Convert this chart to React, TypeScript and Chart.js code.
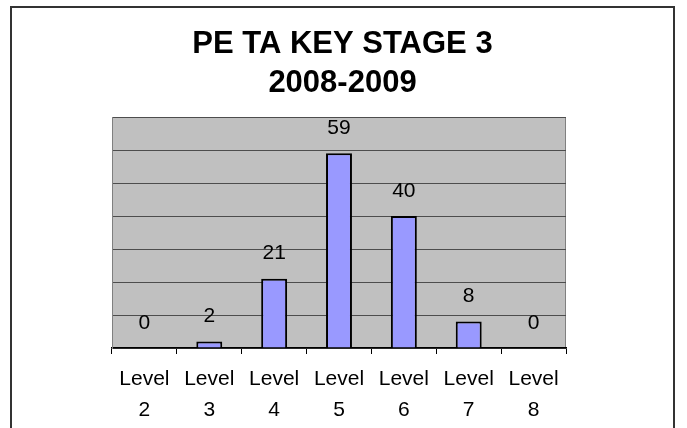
import React, { useEffect, useRef } from "react";
import { Chart, registerables } from "chart.js";

Chart.register(...registerables);

const titleLines = ["PE TA KEY STAGE 3", "2008-2009"];
const levelWord = "Level";
const levels = ["2", "3", "4", "5", "6", "7", "8"];
const pupils = [0, 2, 21, 59, 40, 8, 0];
const yTicks = [0, 10, 20, 30, 40, 50, 60, 70];

const FONT = "'Liberation Sans', Arial, sans-serif";

const plotBg = {
  id: "plotBg",
  beforeDraw(chart: any) {
    const { ctx, chartArea: a } = chart;
    ctx.save();
    ctx.fillStyle = "#ffffff";
    ctx.fillRect(0, 0, chart.width, chart.height);
    ctx.fillStyle = "#c0c0c0";
    ctx.fillRect(a.left, a.top, a.right - a.left, a.bottom - a.top);
    ctx.strokeStyle = "#808080";
    ctx.lineWidth = 1;
    ctx.strokeRect(a.left + 0.5, a.top + 0.5, a.right - a.left - 1, a.bottom - a.top);
    ctx.restore();
  },
  afterDraw(chart: any) {
    const { ctx } = chart;
    ctx.save();
    ctx.strokeStyle = "#333333";
    ctx.lineWidth = 2;
    ctx.strokeRect(11, 7, 663, chart.height + 20);
    // title
    ctx.fillStyle = "#000000";
    ctx.font = `bold 31px ${FONT}`;
    ctx.textAlign = "center";
    ctx.textBaseline = "middle";
    const cx = (11 + 674) / 2;
    titleLines.forEach((t, i) => {
      ctx.fillText(t, cx, 44 + i * 39);
    });
    ctx.restore();
  },
};

const valueLabels = {
  id: "valueLabels",
  afterDatasetsDraw(chart: any) {
    const { ctx } = chart;
    const meta = chart.getDatasetMeta(0);
    ctx.save();
    ctx.fillStyle = "#000000";
    ctx.font = `21px ${FONT}`;
    ctx.textAlign = "center";
    ctx.textBaseline = "middle";
    meta.data.forEach((bar: any, i: number) => {
      ctx.fillText(String(pupils[i]), bar.x, bar.y - 25);
    });
    ctx.restore();
  },
};

export default function App() {
  const ref = useRef<HTMLCanvasElement>(null);
  useEffect(() => {
    document.body.style.margin = "0";
    const chart = new Chart(ref.current!, {
      type: "bar",
      data: {
        labels: levels.map((l) => [levelWord, l]),
        datasets: [
          {
            data: pupils,
            backgroundColor: "#9999ff",
            borderColor: "#000000",
            borderWidth: 2,
            barPercentage: 0.4,
            categoryPercentage: 1,
          },
        ],
      },
      options: {
        responsive: false,
        animation: false,
        layout: { padding: { left: 0, right: 121, top: 117, bottom: 0 } },
        plugins: {
          legend: { display: false },
          tooltip: { enabled: false },
          title: { display: false },
        },
        scales: {
          x: {
            grid: {
              display: true,
              drawOnChartArea: false,
              drawTicks: true,
              tickLength: 6,
              color: "#000000",
              offset: true,
            },
            border: { display: true, color: "#000000", width: 1.5 },
            ticks: {
              color: "#000000",
              font: { family: FONT, size: 21, lineHeight: 31 / 21 },
              padding: 10,
              maxRotation: 0,
              autoSkip: false,
            },
            afterFit(axis: any) {
              axis.height = 80;
            },
          },
          y: {
            min: 0,
            max: 70,
            afterBuildTicks(axis: any) {
              axis.ticks = yTicks.map((v) => ({ value: v }));
            },
            grid: { color: "#4d4d4d", drawTicks: false, lineWidth: 1 },
            border: { display: true, color: "#808080" },
            ticks: { display: false },
            afterFit(axis: any) {
              axis.width = 112;
            },
          },
        },
      },
      plugins: [plotBg, valueLabels],
    });
    return () => chart.destroy();
  }, []);
  return (
    <div style={{ width: 687, height: 428 }}>
      <canvas ref={ref} width={687} height={428} />
    </div>
  );
}
